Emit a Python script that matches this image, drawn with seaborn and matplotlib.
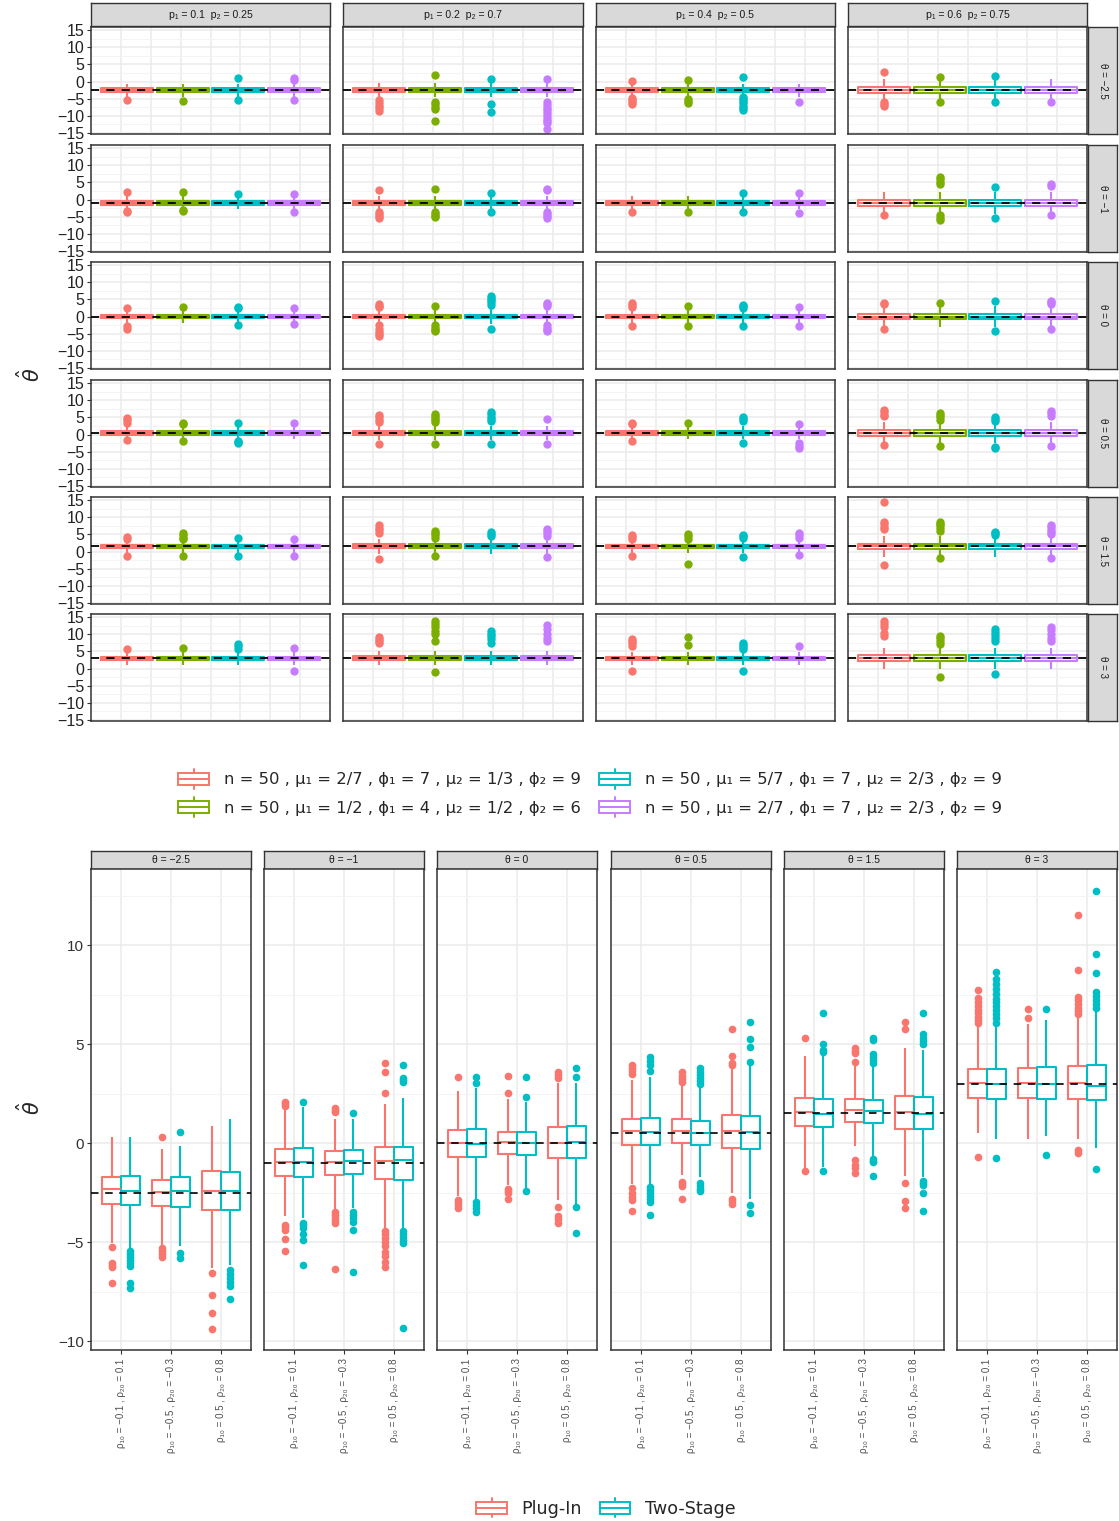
import numpy as np
import pandas as pd
import matplotlib
matplotlib.use("Agg")
import matplotlib.pyplot as plt
import seaborn as sns
from matplotlib.patches import Rectangle
from matplotlib.lines import Line2D
from matplotlib.legend_handler import HandlerBase

sns.set_theme(style="white")
plt.rcParams["font.family"] = ["Liberation Sans", "DejaVu Sans"]

# ---------------- data ----------------
thetas = [-2.5, -1, 0, 0.5, 1.5, 3]
theta_labels = ["θ = −2.5", "θ = −1", "θ = 0", "θ = 0.5", "θ = 1.5", "θ = 3"]

# top panel: facets by (p1, p2), one box per parameter setting
p_labels = ["p₁ = 0.1  p₂ = 0.25", "p₁ = 0.2  p₂ = 0.7",
            "p₁ = 0.4  p₂ = 0.5", "p₁ = 0.6  p₂ = 0.75"]
settings = ["n = 50 , μ₁ = 2/7 , ϕ₁ = 7 , μ₂ = 1/3 , ϕ₂ = 9",
            "n = 50 , μ₁ = 1/2 , ϕ₁ = 4 , μ₂ = 1/2 , ϕ₂ = 6",
            "n = 50 , μ₁ = 5/7 , ϕ₁ = 7 , μ₂ = 2/3 , ϕ₂ = 9",
            "n = 50 , μ₁ = 2/7 , ϕ₁ = 7 , μ₂ = 2/3 , ϕ₂ = 9"]
setting_colors = ["#F8766D", "#7CAE00", "#00BFC4", "#C77CFF"]

top_box_half = [0.5, 0.55, 0.5, 0.8]
top_whisk_half = [1.9, 2.1, 1.9, 3.1]

# outliers: [theta row][p column][setting]
top_out = [
    [  # theta = -2.5
        [[-5.3], [-5.6], [0.9, -5.5], [0.4, 0.9, -5.5]],
        [[-5.5, -6.3, -7.0, -7.7, -8.5], [2.0, -6.0, -6.6, -7.3, -7.9, -11.4],
         [0.8, -6.6, -8.8],
         [0.8, -6.0, -6.8, -7.6, -8.4, -9.2, -10.0, -10.8, -11.6, -12.2, -13.9]],
        [[0.3, -4.8, -5.4, -6.0, -6.6], [0.4, -5.2, -5.8, -6.3],
         [1.4, -4.6, -5.2, -5.8, -6.4, -7.0, -7.6, -8.4], [-6.0]],
        [[2.7, -6.0, -6.6, -7.2], [1.4, -6.0], [1.7, -6.0], [-6.1]],
    ],
    [  # theta = -1
        [[2.3, -3.2, -3.6], [2.3, -3.1, -3.4], [1.7], [1.7, -3.5]],
        [[2.9, -3.7, -4.2, -4.7, -5.5], [3.2, -3.7, -4.2, -4.7, -5.2], [2.0, -3.7],
         [2.7, 3.2, -3.7, -4.3, -4.9, -5.5]],
        [[-3.7], [-3.5], [2.0, -3.7], [2.0, -4.0]],
        [[-4.6], [4.6, 5.2, 5.9, 6.6, -4.6, -5.3, -6.0], [3.7, -5.5], [4.0, 4.6, -4.5]],
    ],
    [  # theta = 0
        [[2.6, -2.9, -3.5], [2.9], [2.4, 2.9, -2.6], [2.6, -2.3]],
        [[2.9, 3.2, 3.7, -2.6, -3.5, -4.5, -5.2, -5.8], [3.2, -2.6, -3.2, -3.8, -4.3],
         [3.5, 4.2, 4.8, 5.4, 6.0, -3.5], [3.2, 3.6, 4.0, -2.6, -3.2, -3.8, -4.3]],
        [[2.9, 3.5, 4.0, -2.9], [3.2, -2.9], [2.6, 3.0, 3.5, -2.9], [2.9, -2.9]],
        [[3.6, 4.0, -3.7], [4.0], [4.6, -4.3], [3.7, 4.1, 4.6, -3.7]],
    ],
    [  # theta = 0.5
        [[3.5, 4.2, 4.9, -1.7], [3.0, 3.5, -2.0], [3.5, -2.0, -2.3, -2.6], [3.5]],
        [[3.7, 4.3, 5.0, 5.8, -2.9], [3.7, 4.3, 4.9, 5.5, 6.1, -2.9],
         [4.0, 4.6, 5.2, 5.9, 6.6, -2.9], [4.6, -2.9]],
        [[3.0, 3.5, -2.0], [3.5], [4.0, 4.6, 5.2, -2.6], [3.2, -2.6, -3.3, -4.0]],
        [[5.5, 5.8, 6.5, 7.2, -3.0], [4.3, 5.0, 5.7, 6.3, -3.2],
         [4.0, 4.6, 5.2, -3.5, -4.0], [5.5, 6.2, 6.9, -3.2]],
    ],
    [  # theta = 1.5
        [[3.7, 4.3, -1.4], [3.6, 4.0, 4.8, 5.5, -1.4], [4.0, -1.4], [3.7, -1.2]],
        [[5.5, 6.2, 7.0, 7.8, -2.3], [4.0, 4.7, 5.4, 6.1, -1.4], [4.6, 5.2, 5.8],
         [4.6, 5.3, 6.0, 6.6, -1.7]],
        [[3.7, 4.3, 4.9, -1.4], [3.7, 4.5, 5.2, -3.5], [4.0, 4.5, 4.9, -1.7],
         [4.0, 4.8, 5.5, -0.9]],
        [[6.6, 7.2, 7.9, 8.6, 14.4, -4.0], [6.1, 7.0, 7.6, 8.1, 8.6, -2.0],
         [4.9, 5.3, 5.8], [5.2, 5.7, 6.4, 7.1, 7.8, -2.0]],
    ],
    [  # theta = 3
        [[5.8], [6.1], [5.8, 6.6, 7.2], [6.1, -0.6]],
        [[7.5, 8.0, 8.6, 9.2], [8.1, 10.1, 11.0, 12.2, 13.0, 13.8, -0.9],
         [7.5, 8.6, 9.4, 10.2, 11.0], [8.1, 9.0, 10.0, 11.5, 12.7]],
        [[6.6, 7.3, 8.0, 8.6, -0.6], [6.9, 9.2], [5.8, 6.3, 6.9, 7.5, -0.6], [6.6]],
        [[9.5, 10.5, 12.0, 12.9, 13.8], [7.2, 8.0, 8.8, 9.5, -2.6],
         [8.1, 8.9, 9.7, 10.6, 11.5, -1.7], [8.1, 9.0, 10.0, 11.2, 12.1]],
    ],
]

# bottom panel: facets by theta, x = correlation setting, hue = estimator
rho_labels = ["ρ₁₀ = −0.1 , ρ₂₀ = 0.1", "ρ₁₀ = −0.5 , ρ₂₀ = −0.3", "ρ₁₀ = 0.5 , ρ₂₀ = 0.8"]
methods = ["Plug-In", "Two-Stage"]
method_colors = ["#F8766D", "#00BFC4"]

# (lower whisker, Q1, median, Q3, upper whisker) per theta, per rho setting
plugin_box = [
    [(-5.03, -3.10, -2.34, -1.70, 0.29), (-5.15, -3.20, -2.49, -1.84, -0.32), (-6.30, -3.38, -2.43, -1.41, 0.86)],
    [(-3.68, -1.67, -0.98, -0.32, 1.67), (-3.38, -1.60, -0.98, -0.40, 1.20), (-4.27, -1.83, -0.89, -0.19, 1.97)],
    [(-2.68, -0.69, 0.00, 0.66, 2.64), (-2.12, -0.57, 0.03, 0.56, 2.20), (-2.85, -0.76, 0.00, 0.79, 3.05)],
    [(-2.08, -0.10, 0.62, 1.23, 3.20), (-1.62, -0.02, 0.62, 1.20, 3.01), (-2.51, -0.25, 0.62, 1.40, 3.82)],
    [(-1.25, 0.86, 1.58, 2.29, 4.40), (-0.15, 1.06, 1.66, 2.21, 3.90), (-1.68, 0.71, 1.58, 2.37, 4.80)],
    [(0.49, 2.27, 3.04, 3.75, 5.91), (0.19, 2.27, 3.04, 3.80, 6.00), (0.19, 2.24, 3.04, 3.90, 6.35)],
]
plugin_out = [
    [[-5.24, -6.05, -6.15, -6.25, -7.09], [0.29, -5.3, -5.45, -5.6, -5.75], [-6.55, -7.69, -8.6, -9.38]],
    [[1.85, 1.95, 2.05, -4.13, -4.25, -4.4, -4.85, -5.45],
     [1.55, 1.65, 1.75, -3.5, -3.65, -3.8, -3.95, -4.05, -6.38],
     [2.54, 3.57, 4.06, -4.45, -4.6, -4.8, -5.0, -5.2, -5.5, -5.7, -6.0, -6.25]],
    [[3.35, -2.85, -3.0, -3.15, -3.3], [2.54, 3.38, -2.3, -2.4, -2.5, -2.83],
     [3.3, 3.45, 3.6, -3.23, -3.7, -3.85, -4.05]],
    [[3.5, 3.65, 3.8, 3.94, -2.29, -2.5, -2.7, -2.85, -3.42],
     [3.1, 3.25, 3.4, 3.6, -1.95, -2.05, -2.17, -2.8],
     [3.92, 4.05, 4.4, 5.77, -2.8, -2.95, -3.1]],
    [[5.29, -1.41], [4.1, 4.56, 4.65, 4.78, -0.88, -1.1, -1.25, -1.5], [5.77, 6.13, -2.02, -2.94, -3.3]],
    [[6.05, 6.2, 6.35, 6.55, 6.7, 6.9, 7.1, 7.35, 7.73, -0.72], [6.3, 6.75],
     [6.5, 6.65, 6.8, 7.0, 7.2, 7.4, 8.74, 11.52, -0.35, -0.5]],
]
twostage_box = [
    [(-5.37, -3.15, -2.41, -1.65, 0.29), (-5.20, -3.22, -2.41, -1.72, -0.15), (-6.16, -3.40, -2.41, -1.45, 1.23)],
    [(-3.80, -1.70, -0.98, -0.25, 1.80), (-3.30, -1.57, -0.91, -0.35, 1.24), (-4.35, -1.86, -0.86, -0.19, 2.30)],
    [(-2.85, -0.72, -0.07, 0.73, 2.76), (-2.29, -0.60, 0.00, 0.56, 2.05), (-3.10, -0.76, 0.03, 0.86, 3.01)],
    [(-2.07, -0.10, 0.55, 1.28, 3.33), (-1.73, -0.10, 0.52, 1.13, 2.88), (-2.80, -0.32, 0.55, 1.38, 3.89)],
    [(-1.20, 0.79, 1.46, 2.24, 4.40), (-0.71, 1.00, 1.60, 2.18, 3.90), (-1.70, 0.69, 1.45, 2.31, 4.70)],
    [(0.19, 2.20, 2.96, 3.73, 5.88), (0.35, 2.22, 2.96, 3.84, 6.21), (-0.27, 2.18, 2.88, 3.96, 6.60)],
]
twostage_out = [
    [[-5.45, -5.6, -5.75, -5.9, -6.05, -6.2, -7.05, -7.3], [0.55, -5.55, -5.8],
     [-6.4, -6.6, -6.8, -7.0, -7.2, -7.86]],
    [[2.05, -4.05, -4.15, -4.3, -4.6, -4.9, -6.16], [1.5, -3.5, -3.65, -3.8, -4.0, -4.4, -6.5],
     [3.1, 3.2, 3.3, 3.95, -4.45, -4.6, -4.75, -4.9, -5.05, -9.33]],
    [[3.05, 3.35, -3.0, -3.15, -3.3, -3.5], [2.34, 3.35, -2.44], [3.35, 3.77, -3.23, -4.53]],
    [[3.65, 3.95, 4.15, 4.35, -2.2, -2.35, -2.5, -2.65, -2.8, -3.0, -3.65],
     [3.0, 3.15, 3.3, 3.45, 3.6, 3.8, -2.0, -2.15, -2.3, -2.4],
     [4.1, 4.87, 5.25, 6.13, -3.13, -3.55]],
    [[4.6, 4.7, 4.99, 6.55, -1.42], [4.05, 4.2, 4.35, 4.5, 5.2, 5.3, -0.81, -0.9, -0.96, -1.68],
     [5.0, 5.15, 5.3, 5.5, 6.58, -1.92, -2.02, -2.12, -2.51, -3.42]],
    [[6.08, 6.3, 6.5, 6.7, 6.9, 7.1, 7.3, 7.55, 7.8, 8.05, 8.3, 8.65, -0.77], [6.76, -0.62],
     [6.8, 7.0, 7.2, 7.45, 7.65, 8.6, 9.53, 12.74, -1.29]],
]


def box_sample(lo, q1, med, q3, hi, out):
    # read summary values; quartile values repeated so the quartile
    # estimate seaborn computes lands on them
    return [lo] + [q1] * 40 + [med] * 40 + [q3] * 40 + [hi] + list(out)


# ---------------- figure ----------------
W, H = 1119, 1521
fig = plt.figure(figsize=(W / 100, H / 100), dpi=100)
EDGE = "#333333"
GRID = "#EBEBEB"
LEGEND_FONT = ["DejaVu Sans"]


def px_axes(left, top, right, bottom):
    return fig.add_axes([left / W, 1 - bottom / H, (right - left) / W, (bottom - top) / H])


def strip(left, top, right, bottom, text, rotation=0, size=6.5):
    s = px_axes(left, top, right, bottom)
    s.set_facecolor("#D9D9D9")
    s.set_xticks([])
    s.set_yticks([])
    for sp in s.spines.values():
        sp.set_color(EDGE)
        sp.set_linewidth(1.0)
    s.text(0.5, 0.5, text, rotation=rotation, ha="center", va="center",
           fontsize=size, color="#1A1A1A", transform=s.transAxes)


def finish_panel(ax):
    for sp in ax.spines.values():
        sp.set_color(EDGE)
        sp.set_linewidth(1.1)
    ax.set_axisbelow(True)
    ax.set_xlabel("")
    ax.set_ylabel("")
    # ggplot style filled outlier points
    for ln in ax.lines:
        if ln.get_marker() not in (None, "None", "", " "):
            ln.set_markerfacecolor(ln.get_markeredgecolor())


top_cols = [(91, 330), (343, 583), (596, 835), (848, 1087)]
top_rows = [(27, 134), (145, 252), (262, 369), (380, 487), (497, 604), (614, 721)]

for c, (x0, x1) in enumerate(top_cols):
    strip(x0, 3, x1, 26, p_labels[c], size=7.6)
for r, (y0, y1) in enumerate(top_rows):
    strip(1088, y0, 1117, y1, theta_labels[r], rotation=-90, size=7)

for r, (y0, y1) in enumerate(top_rows):
    th = thetas[r]
    for c, (x0, x1) in enumerate(top_cols):
        ax = px_axes(x0, y0, x1, y1)
        recs = []
        for m, name in enumerate(settings):
            vals = box_sample(th - top_whisk_half[c], th - top_box_half[c], th,
                              th + top_box_half[c], th + top_whisk_half[c],
                              top_out[r][c][m])
            recs += [{"setting": name, "value": v} for v in vals]
        df = pd.DataFrame(recs)
        sns.boxplot(data=df, x="setting", y="value", hue="setting", order=settings,
                    hue_order=settings, palette=setting_colors, saturation=1,
                    fill=False, dodge=False, width=0.93, linewidth=1.5,
                    fliersize=5, flierprops={"marker": "o"},
                    capprops={"visible": False}, legend=False, ax=ax)
        ax.axhline(th, color="black", lw=1.3, ls=(0, (4.5, 4)), zorder=6)
        ax.set_xlim(-0.65, 3.65)
        ax.set_ylim(-15.3, 15.9)
        ax.set_xticks(np.linspace(-0.65, 3.65, 9)[1:-1])
        ax.set_xticklabels([])
        ax.set_yticks([-15, -10, -5, 0, 5, 10, 15])
        ax.set_yticks([-12.5, -7.5, -2.5, 2.5, 7.5, 12.5], minor=True)
        ax.grid(True, which="major", color=GRID, lw=1.1)
        ax.grid(True, which="minor", axis="y", color="#F3F3F3", lw=0.6)
        ax.tick_params(axis="x", bottom=False, labelbottom=False)
        ax.tick_params(axis="y", which="minor", left=False)
        if c == 0:
            ax.tick_params(axis="y", which="major", left=True, length=3, width=0.8,
                           color=EDGE, labelsize=11.5, labelcolor="#222222", pad=2)
        else:
            ax.tick_params(axis="y", left=False, labelleft=False)
        finish_panel(ax)

fig.text(30 / W, 1 - 375 / H, r"$\hat{\theta}$", rotation=90, fontsize=15,
         ha="center", va="center")


class BoxGlyph(HandlerBase):
    def create_artists(self, legend, orig_handle, xdescent, ydescent, width, height,
                       fontsize, trans):
        col = orig_handle.get_edgecolor()
        x0, y0 = -xdescent, -ydescent
        body = Rectangle((x0, y0 + 0.18 * height), width, 0.64 * height, fill=False,
                         edgecolor=col, lw=1.4, transform=trans)
        mid = Line2D([x0, x0 + width], [y0 + 0.5 * height] * 2, color=col, lw=1.4,
                     transform=trans)
        up = Line2D([x0 + width / 2] * 2, [y0 + 0.82 * height, y0 + height], color=col,
                    lw=1.4, transform=trans)
        down = Line2D([x0 + width / 2] * 2, [y0, y0 + 0.18 * height], color=col,
                      lw=1.4, transform=trans)
        return [body, mid, up, down]


top_handles = [Rectangle((0, 0), 1, 1, fill=False, edgecolor=col) for col in setting_colors]
fig.legend(top_handles, settings, ncol=2, loc="center",
           bbox_to_anchor=(590 / W, 1 - 793 / H), frameon=False,
           prop={"family": LEGEND_FONT, "size": 11.8},
           handler_map={Rectangle: BoxGlyph()}, handlelength=1.9, handleheight=1.5,
           handletextpad=0.9, columnspacing=1.1, labelspacing=0.5)

# ---------------- bottom panel ----------------
bot_cols = [(91, 251), (264, 424), (437, 597), (611, 771), (784, 944), (957, 1117)]
for f, (x0, x1) in enumerate(bot_cols):
    strip(x0, 851, x1, 869, theta_labels[f], size=7.5)
    ax = px_axes(x0, 869, x1, 1350)
    recs = []
    for k, rho in enumerate(rho_labels):
        for name, boxes, outs in ((methods[0], plugin_box, plugin_out),
                                  (methods[1], twostage_box, twostage_out)):
            for v in box_sample(*boxes[f][k], outs[f][k]):
                recs.append({"rho": rho, "method": name, "value": v})
    df = pd.DataFrame(recs)
    sns.boxplot(data=df, x="rho", y="value", hue="method", order=rho_labels,
                hue_order=methods, palette=method_colors, saturation=1, fill=False,
                dodge=True, width=0.75, gap=0, linewidth=1.5, fliersize=4.5,
                flierprops={"marker": "o"}, capprops={"visible": False},
                legend=False, ax=ax)
    ax.axhline(thetas[f], color="black", lw=1.2, ls=(0, (4.5, 4)), zorder=6)
    ax.set_xlim(-0.6, 2.6)
    ax.set_ylim(-10.45, 13.84)
    ax.set_xticks([0, 1, 2])
    ax.set_xticklabels(rho_labels, rotation=90, fontsize=7, color="#4D4D4D")
    ax.set_yticks([-10, -5, 0, 5, 10])
    ax.set_yticks([-7.5, -2.5, 2.5, 7.5, 12.5], minor=True)
    ax.grid(True, which="major", color=GRID, lw=1.1)
    ax.grid(True, which="minor", axis="y", color="#F3F3F3", lw=0.6)
    ax.tick_params(axis="x", bottom=True, length=3, width=0.8, color=EDGE, pad=3)
    ax.tick_params(axis="y", which="minor", left=False)
    if f == 0:
        ax.tick_params(axis="y", which="major", left=True, length=3, width=0.8,
                       color=EDGE, labelsize=11, labelcolor="#333333", pad=2)
    else:
        ax.tick_params(axis="y", left=False, labelleft=False)
    finish_panel(ax)

fig.text(30 / W, 1 - 1108 / H, r"$\hat{\theta}$", rotation=90, fontsize=15,
         ha="center", va="center")

bot_handles = [Rectangle((0, 0), 1, 1, fill=False, edgecolor=col) for col in method_colors]
fig.legend(bot_handles, methods, ncol=2, loc="center",
           bbox_to_anchor=(606 / W, 1 - 1508 / H), frameon=False,
           prop={"family": LEGEND_FONT, "size": 12.6},
           handler_map={Rectangle: BoxGlyph()}, handlelength=1.75, handleheight=1.3,
           handletextpad=0.85, columnspacing=1.0)

fig.savefig("out.png", dpi=100)
